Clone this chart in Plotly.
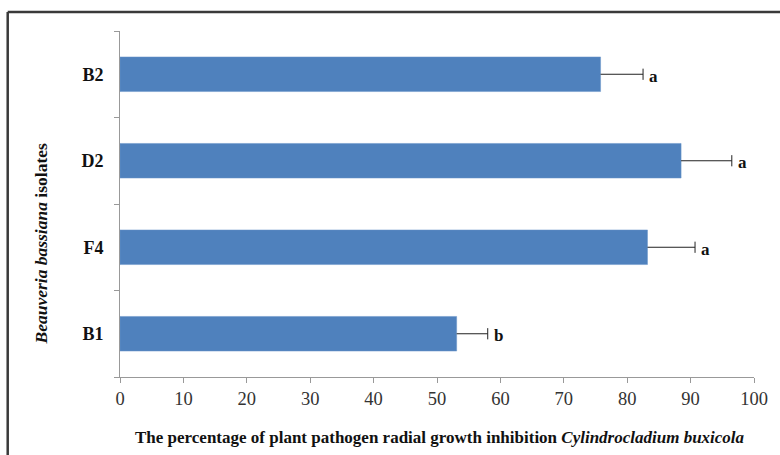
import plotly.graph_objects as go

isolates = ["B1", "F4", "D2", "B2"]
inhibition = [53.1, 83.2, 88.5, 75.8]
errors = [4.9, 7.5, 8.0, 6.7]
letters = ["b", "a", "a", "a"]
x_ticks = [0, 10, 20, 30, 40, 50, 60, 70, 80, 90, 100]

W, H = 780, 455
ML, MR, MT, MB = 120, 22, 31, 78
PW, PH = W - ML - MR, H - MT - MB

serif = "Liberation Serif, Times New Roman, serif"

fig = go.Figure()
fig.add_trace(go.Bar(
    y=isolates, x=inhibition, orientation="h",
    marker=dict(color="#4F81BD", line=dict(color="#6A95C8", width=0.5)),
    width=0.4,
    showlegend=False,
))

# positive-only error bars: stem + end cap
ex, ey = [], []
for cat, v, e in zip(isolates, inhibition, errors):
    ex += [v, v + e, None]
    ey += [cat, cat, None]
fig.add_trace(go.Scatter(x=ex, y=ey, mode="lines",
                         line=dict(color="#222222", width=1),
                         showlegend=False, hoverinfo="skip"))
fig.add_trace(go.Scatter(x=[v + e for v, e in zip(inhibition, errors)], y=isolates,
                         mode="markers",
                         marker=dict(symbol="line-ns", size=8,
                                     line=dict(color="#222222", width=1)),
                         showlegend=False, hoverinfo="skip"))

for cat, v, e, t in zip(isolates, inhibition, errors, letters):
    fig.add_annotation(x=v + e, y=cat, text="<b>%s</b>" % t, showarrow=False,
                       xanchor="left", xshift=4, yshift=-2,
                       font=dict(family=serif, size=17, color="#111111"))

# y-axis title (custom placement)
fig.add_annotation(xref="paper", yref="paper",
                   x=(40 - ML) / PW, y=(H - MB - 244) / PH,
                   text="<b><i>Beauveria bassiana</i> isolates</b>",
                   textangle=-90, showarrow=False, xanchor="center", yanchor="middle",
                   font=dict(family=serif, size=17.5, color="#111111"))

# x-axis title
fig.add_annotation(xref="paper", yref="paper",
                   x=(442 - ML) / PW, y=-(437 - (H - MB)) / PH,
                   text="<b>The percentage of plant pathogen radial growth inhibition <i>Cylindrocladium buxicola</i></b>",
                   showarrow=False, xanchor="center", yanchor="middle",
                   font=dict(family=serif, size=17, color="#111111"))

# outer frame (left and top edges)
fig.add_shape(type="line", xref="paper", yref="paper",
              x0=(7 - ML) / PW, x1=(W + 5 - ML) / PW,
              y0=(H - MB - 12) / PH, y1=(H - MB - 12) / PH,
              line=dict(color="#3a3a3a", width=2.5))
fig.add_shape(type="line", xref="paper", yref="paper",
              x0=(7 - ML) / PW, x1=(7 - ML) / PW,
              y0=(H - MB - 12) / PH, y1=-(H - (H - MB) + 5) / PH,
              line=dict(color="#3a3a3a", width=2.5))

fig.update_layout(
    width=W, height=H,
    margin=dict(l=ML, r=MR, t=MT, b=MB),
    paper_bgcolor="white", plot_bgcolor="white",
    font=dict(family=serif, color="#222222"),
    xaxis=dict(range=[0, 100], tickvals=x_ticks, showgrid=False, zeroline=False,
               showline=True, linecolor="#999999", linewidth=1,
               ticks="outside", ticklen=5, tickcolor="#999999",
               tickfont=dict(family=serif, size=18.5, color="#333333")),
    yaxis=dict(categoryorder="array", categoryarray=isolates,
               showgrid=False, zeroline=False,
               showline=True, linecolor="#999999", linewidth=1,
               ticks="outside", ticklen=5, tickcolor="#999999", tickson="boundaries",
               tickfont=dict(family=serif, size=18, color="#111111"),
               ticklabelstandoff=12),
)
fig.update_yaxes(ticktext=["<b>%s</b>" % c for c in isolates], tickvals=isolates)

fig.write_html("out.html")
